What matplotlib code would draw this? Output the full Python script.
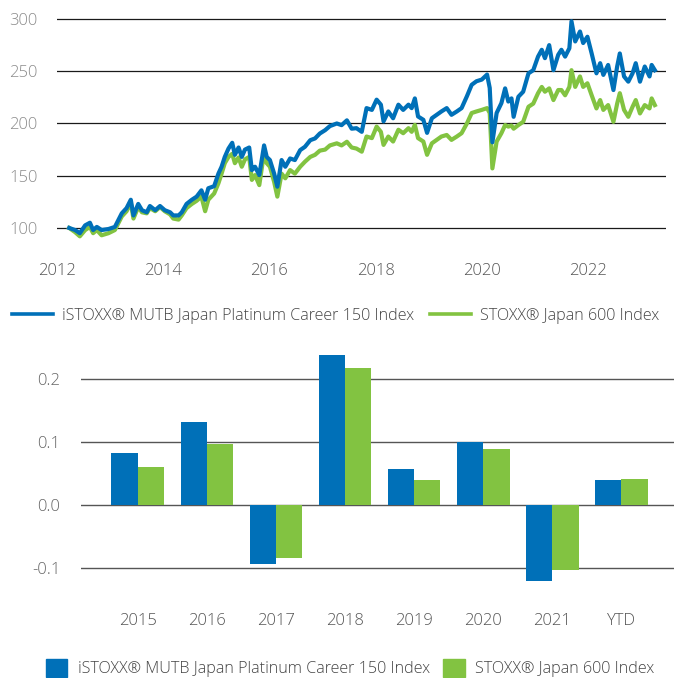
import matplotlib
matplotlib.use("Agg")
import matplotlib.pyplot as plt
from matplotlib.lines import Line2D
from matplotlib.patches import Patch

plt.rcParams['font.family'] = ['Open Sans', 'DejaVu Sans']
plt.rcParams['font.weight'] = 'light'
plt.rcParams['axes.unicode_minus'] = False

# ---------------- data: index levels (fractional year) ----------------
t_vals = [2012.23, 2012.34, 2012.43, 2012.53, 2012.62, 2012.68, 2012.75, 2012.84, 2012.97,
          2013.09, 2013.15, 2013.22, 2013.31, 2013.39, 2013.44, 2013.53, 2013.60, 2013.69,
          2013.75, 2013.85, 2013.94, 2014.03, 2014.13, 2014.19, 2014.29, 2014.35, 2014.44,
          2014.54, 2014.63, 2014.72, 2014.79, 2014.85, 2014.96,
          2015.04, 2015.10, 2015.16, 2015.23, 2015.30, 2015.35, 2015.42, 2015.48, 2015.54,
          2015.62, 2015.67, 2015.73, 2015.81, 2015.90, 2015.95, 2016.01, 2016.09, 2016.15,
          2016.23, 2016.30, 2016.39, 2016.48, 2016.58, 2016.67, 2016.77, 2016.86, 2016.95,
          2017.05, 2017.14, 2017.27, 2017.36, 2017.46, 2017.55, 2017.64,
          2017.74, 2017.83, 2017.93, 2018.02, 2018.10, 2018.15, 2018.24, 2018.33, 2018.43,
          2018.52, 2018.62, 2018.68, 2018.74, 2018.80, 2018.90, 2018.97, 2019.06, 2019.15,
          2019.24, 2019.34, 2019.43, 2019.53, 2019.62, 2019.72, 2019.81, 2019.90, 2020.00,
          2020.10, 2020.15, 2020.20, 2020.28, 2020.37,
          2020.44, 2020.50, 2020.56, 2020.60, 2020.69, 2020.78, 2020.88, 2020.97, 2021.06,
          2021.13, 2021.19, 2021.27, 2021.35, 2021.44, 2021.50, 2021.57, 2021.65, 2021.69,
          2021.76, 2021.85, 2021.91, 2021.99, 2022.07, 2022.16, 2022.23, 2022.29, 2022.38,
          2022.48, 2022.55, 2022.60, 2022.68, 2022.76, 2022.84, 2022.90, 2022.98, 2023.07,
          2023.16, 2023.20, 2023.26]

platinum_150 = [100, 98, 95, 102.5, 105, 98, 101, 98, 99,
                101, 107, 114, 119, 127, 112, 123, 117, 115,
                121, 117, 121, 117, 115, 112, 112, 115, 123,
                127, 130, 136, 127, 138, 140,
                152, 158.6, 168, 176, 181.5, 170, 177, 168, 175,
                177, 155.4, 158.6, 150.6, 179, 168, 165, 152, 139.5,
                165, 158.6, 166.5, 165, 174.5, 177.7, 184, 185.7, 190.4,
                193.6, 197.5, 200, 198.4, 203, 195, 195.5,
                192, 214.7, 213, 222.8, 218, 202, 211.5, 205, 218,
                213, 218, 214.7, 224, 206.7, 203.5, 191, 205, 208.3,
                211.5, 214.7, 208.3, 211.5, 214.7, 226, 237, 240.4, 242,
                246.8, 234, 182, 210, 219.5,
                233.6, 221, 224, 206.4, 225.6, 230.4, 248, 251, 264,
                270.5, 262.5, 275, 251, 265.7, 270.5, 264, 272, 297.8,
                278.5, 288, 277, 283, 267, 248, 257.7, 246.5, 256,
                232, 254.5, 267, 245, 240, 248, 257.7, 240, 254.5,
                245, 256, 251]

japan_600 = [100, 96, 92, 98, 101, 95, 98, 93, 95,
             98, 104, 111, 116, 124, 109, 120, 115, 114,
             119, 116, 120, 116, 113, 109, 108, 112, 119,
             123, 126, 130, 116, 127, 133,
             142.7, 152, 162, 168, 171, 162, 167.5, 158.6, 165.6,
             168, 146, 150.6, 141, 172, 162, 158.6, 144, 130,
             152, 147.5, 155.4, 152, 158.6, 163.4, 168, 170, 174,
             175, 179, 181, 179, 182.5, 177, 176,
             173, 187.5, 186, 197, 192, 179.5, 187.5, 182.7, 194,
             190.7, 195.5, 192, 198.7, 186, 182.7, 170, 181, 184.3,
             187.5, 189, 184.3, 187.5, 190.7, 200, 210, 211.5, 213,
             214.7, 210, 157, 182.7, 190.7,
             198.5, 197, 198, 195, 198.5, 201.6, 216, 219, 229,
             235, 230.4, 233.6, 222.4, 232, 232, 227, 235, 251,
             235, 245, 235, 238.5, 227, 214.4, 222.4, 213, 217.6,
             201.6, 219, 229, 213, 206.4, 216, 222.4, 209.6, 217.6,
             214.4, 224, 217.6]

year_ticks = [2012, 2014, 2016, 2018, 2020, 2022]
level_ticks = [100, 150, 200, 250, 300]

# ---------------- data: annual returns ----------------
periods = ["2015", "2016", "2017", "2018", "2019", "2020", "2021", "YTD"]
ret_platinum_150 = [0.0825, 0.132, -0.094, 0.238, 0.057, 0.100, -0.120, 0.039]
ret_japan_600 = [0.060, 0.097, -0.084, 0.217, 0.039, 0.089, -0.103, 0.041]
return_ticks = [-0.1, 0.0, 0.1, 0.2]
return_tick_labels = ["-0.1", "0.0", "0.1", "0.2"]

series_names = ["iSTOXX® MUTB Japan Platinum Career 150 Index", "STOXX® Japan 600 Index"]

BLUE = "#0070B8"
GREEN = "#82C341"
W, H = 674, 678
FS_TICK = 12
FS_LEG = 11.6

fig = plt.figure(figsize=(W / 100, H / 100), dpi=100)

def box(left, top, right, bottom):
    return [left / W, 1 - bottom / H, (right - left) / W, (bottom - top) / H]

# ---------------- line chart ----------------
ax1 = fig.add_axes(box(57, 16.9, 666, 240.5))
ax1.plot(t_vals, japan_600, color=GREEN, lw=3.0, zorder=3, solid_joinstyle='round')
ax1.plot(t_vals, platinum_150, color=BLUE, lw=3.0, zorder=4, solid_joinstyle='round')
ax1.set_xlim(2012, 2023.47)
ax1.set_ylim(88, 302)
ax1.set_xticks(year_ticks, [str(y) for y in year_ticks])
ax1.set_yticks(level_ticks, [str(v) for v in level_ticks])
ax1.yaxis.grid(True, color="#1a1a1a", lw=0.9)
ax1.set_axisbelow(True)
for s in ax1.spines.values():
    s.set_visible(False)
ax1.tick_params(axis='both', length=0)
ax1.tick_params(axis='y', pad=14, labelsize=FS_TICK, labelcolor="#8c8c8c")
ax1.tick_params(axis='x', pad=16, labelsize=FS_TICK, labelcolor="#555555")

fig.legend(handles=[Line2D([], [], color=BLUE, lw=2.6), Line2D([], [], color=GREEN, lw=2.6)],
           labels=series_names, loc='center', bbox_to_anchor=(336 / W, 1 - 316 / H),
           ncol=2, frameon=False, fontsize=FS_LEG, labelcolor="#444444",
           handlelength=2.5, handletextpad=0.6, columnspacing=1.0, borderpad=0, borderaxespad=0)

# ---------------- bar chart ----------------
ax2 = fig.add_axes(box(81, 350.6, 674, 586.9))
idx = list(range(len(periods)))
bw = 0.384
ax2.bar([i - bw / 2 for i in idx], ret_platinum_150, width=bw, color=BLUE, zorder=3)
ax2.bar([i + bw / 2 for i in idx], ret_japan_600, width=bw, color=GREEN, zorder=3)
ax2.set_xlim(-0.826, 7.768)
ax2.set_ylim(-0.13, 0.245)
ax2.set_xticks(idx, periods)
ax2.set_yticks(return_ticks, return_tick_labels)
ax2.yaxis.grid(True, color="#555555", lw=1.0)
ax2.set_axisbelow(True)
for s in ax2.spines.values():
    s.set_visible(False)
ax2.tick_params(axis='both', length=0)
ax2.tick_params(axis='y', pad=15, labelsize=FS_TICK, labelcolor="#666666")
ax2.tick_params(axis='x', pad=19, labelsize=FS_TICK, labelcolor="#555555")

fig.legend(handles=[Patch(color=BLUE), Patch(color=GREEN)],
           labels=series_names, loc='center', bbox_to_anchor=(350 / W, 1 - 668 / H),
           ncol=2, frameon=False, fontsize=FS_LEG, labelcolor="#444444",
           handlelength=1.35, handleheight=1.35, handletextpad=0.65, columnspacing=0.8,
           borderpad=0, borderaxespad=0)

fig.savefig("out.png", dpi=100)
